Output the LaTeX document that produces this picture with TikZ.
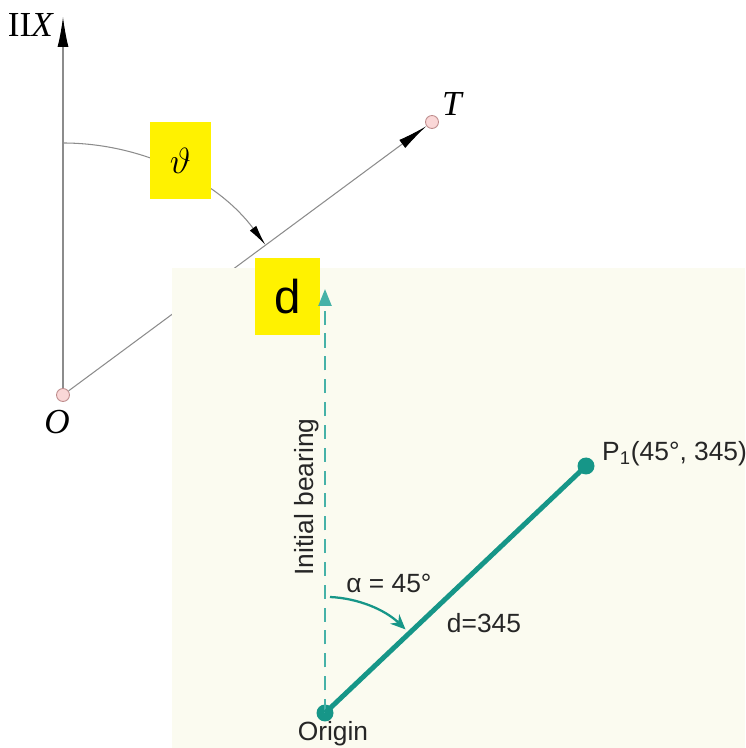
\documentclass[tikz,border=0pt]{standalone}
\usepackage{fontspec}
\setmainfont{Liberation Serif}
\newfontfamily\arialfont{Liberation Sans}
\usetikzlibrary{arrows.meta, positioning, calc}

\definecolor{panelbg}{RGB}{251,251,240}
\definecolor{teal1}{RGB}{22,150,136}
\definecolor{teal2}{RGB}{70,178,168}
\definecolor{pinkdot}{RGB}{250,215,215}
\definecolor{pinkline}{RGB}{190,140,140}

\begin{document}
\begin{tikzpicture}[
          x=0.02cm, y=0.02cm,
          thin line/.style={draw=black!45, line width=0.6pt},
          pt/.style={circle, draw=pinkline, fill=pinkdot, line width=0.5pt, minimum size=0.26cm, inner sep=0pt},
          ylbox/.style={fill=yellow, inner sep=0pt},
          dot/.style={circle, fill=teal1, minimum size=0.34cm, inner sep=0pt},
          serif/.style={font=\fontsize{20}{24}\selectfont},
          sans/.style={font=\arialfont\fontsize{15}{18}\selectfont, text=black!85}
        ]
          \useasboundingbox (0,0) rectangle (745,748);
          % upper drawing
          \node[pt] (O) at (63,353) {};
          \node[pt] (T) at (432,626) {};
          \coordinate (axtop) at (63,731);
          \node[serif] at (31,723) {II\textit{X}};
          \node[serif] at (57,326) {\textit{O}};
          \node[serif] at (453,644) {\textit{T}};
          \draw[thin line, -{Latex[length=0.6cm, width=0.22cm, black]}] (O) -- (axtop);
          \draw[thin line, -{Latex[length=0.6cm, width=0.2cm, black]}] (O) -- (T);
          \draw[thin line, -{Latex[length=0.42cm, width=0.16cm, black]}] (63,605) arc[start angle=90, end angle=36.5, radius=252];
          \node[ylbox, minimum width=1.22cm, minimum height=1.54cm, font=\fontsize{22}{24}\selectfont] (theta) at (180.5,587.5) {$\vartheta$};
          % lower panel
          \fill[panelbg] (172,0) rectangle (745,480);
          \node[ylbox, minimum width=1.3cm, minimum height=1.54cm, font=\arialfont\fontsize{27}{30}\selectfont] (dbox) at (287.5,451.5) {d};
          \node[dot] (origin) at (325,35) {};
          \node[dot] (pone) at (586,282) {};
          \coordinate (bear) at (325,459);
          \draw[teal2, line width=1.4pt, dash pattern=on 8pt off 5pt, -{Triangle[length=0.34cm, width=0.26cm]}] (origin.center) -- (bear);
          \draw[teal1, line width=2.8pt] (origin.center) -- (pone.center);
          \draw[teal1, line width=1.3pt, -{Stealth[length=0.3cm, width=0.26cm]}] (330,151) arc[start angle=87.5, end angle=46, radius=116];
          \node[sans, rotate=90] at (307,251) {Initial bearing};
          \node[sans] (alpha) at (389,165) {α = 45°};
          \node[sans] (dlab) at (484,125) {d=345};
          \node[sans] at (333,14) {Origin};
          \node[sans, anchor=west] at (596,294) {P\textsubscript{1}(45°, 345)};
        \end{tikzpicture}
\end{document}
